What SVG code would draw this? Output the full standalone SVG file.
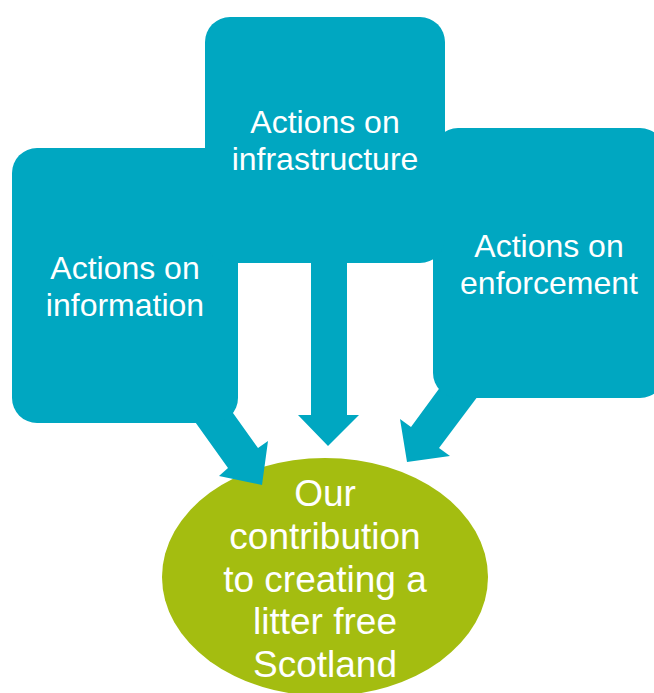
<svg xmlns="http://www.w3.org/2000/svg" width="654" height="693" viewBox="0 0 654 693">
  <style>
    .box { fill: #00A7C1; }
    .arrow { fill: #00A7C1; }
    .goal { fill: #A4BD10; }
    .lbl { font-family: "Liberation Sans", Arial, sans-serif; font-size: 32px; fill: #FFFFFF; text-anchor: middle; }
    .glbl { font-family: "Liberation Sans", Arial, sans-serif; font-size: 37px; fill: #FFFFFF; text-anchor: middle; }
  </style>
  <rect width="654" height="693" fill="#FFFFFF"/>

  <g id="goal">
    <ellipse class="goal" cx="325" cy="577" rx="163" ry="119"/>
    <text class="glbl" x="325" y="506">Our</text>
    <text class="glbl" x="325" y="549">contribution</text>
    <text class="glbl" x="325" y="592">to creating a</text>
    <text class="glbl" x="325" y="634">litter free</text>
    <text class="glbl" x="325" y="677">Scotland</text>
  </g>

  <g id="connectors">
    <polygon class="arrow" points="193,419 228,468 219,476 262,485 268,441 258,448 223,399"/>
    <polygon class="arrow" points="311,250 311,415 298,415 328,446 359,415 347,415 347,250"/>
    <polygon class="arrow" points="452,371 411,427 400,419 407,462 450,456 439,448 481,392"/>
  </g>

  <g id="information">
    <rect class="box" x="12" y="148" width="226" height="275" rx="25" ry="25"/>
    <text class="lbl" x="125" y="279">Actions on</text>
    <text class="lbl" x="125" y="316">information</text>
  </g>

  <g id="enforcement">
    <rect class="box" x="433" y="128" width="232" height="270" rx="25" ry="25"/>
    <text class="lbl" x="549" y="257">Actions on</text>
    <text class="lbl" x="549" y="294">enforcement</text>
  </g>

  <g id="infrastructure">
    <rect class="box" x="205" y="17" width="240" height="246" rx="25" ry="25"/>
    <text class="lbl" x="325" y="133">Actions on</text>
    <text class="lbl" x="325" y="170">infrastructure</text>
  </g>
</svg>
